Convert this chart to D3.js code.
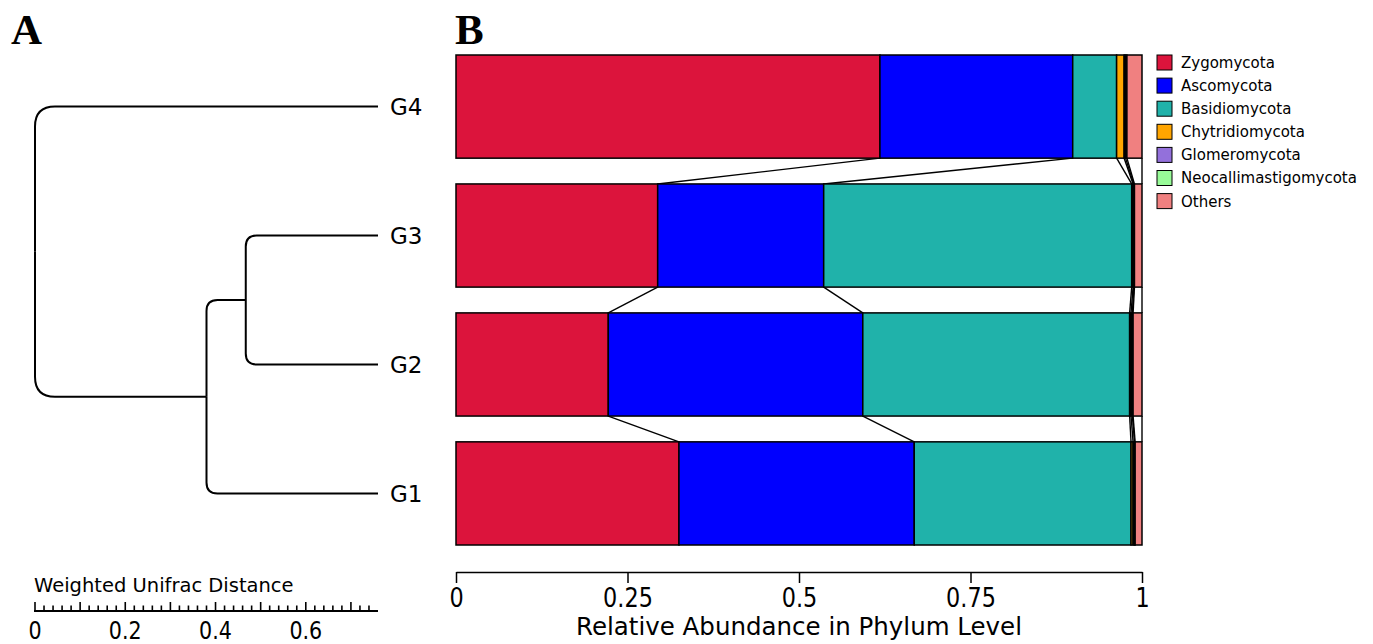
<!DOCTYPE html>
<html>
<head>
<meta charset="utf-8">
<script src="https://cdn.jsdelivr.net/npm/d3@7"></script>
<style>
  body { margin: 0; background: #fff; }
  svg { display: block; font-family: "DejaVu Sans", sans-serif; }
</style>
</head>
<body>
<div id="chart"></div>
<script>
// samples, top to bottom
var groups = ["G4", "G3", "G2", "G1"];
var phyla = ["Zygomycota", "Ascomycota", "Basidiomycota", "Chytridiomycota",
  "Glomeromycota", "Neocallimastigomycota", "Others"];
var colors = ["#DC143C", "#0000FF", "#20B2AA", "#FFA500", "#9370DB", "#98FB98", "#F08080"];

// relative abundance per phylum, in the order of groups
var zygomycota = [0.618, 0.294, 0.222, 0.325];
var ascomycota = [0.281, 0.242, 0.371, 0.343];
var basidiomycota = [0.064, 0.449, 0.389, 0.316];
var chytridiomycota = [0.011, 0.002, 0.002, 0.003];
var glomeromycota = [0.002, 0.001, 0.002, 0.002];
var neocallimastigomycota = [0.002, 0.001, 0.001, 0.001];
var others = [0.022, 0.011, 0.013, 0.010];

var abundanceTicks = [0, 0.25, 0.5, 0.75, 1];
var distanceTicks = [0, 0.2, 0.4, 0.6];

// UPGMA tree, branch lengths in weighted unifrac distance
var tree = {name: "root", length: 0, children: [
  {name: "G4", length: 0.76},
  {name: "n1", length: 0.38, children: [
    {name: "n2", length: 0.087, children: [
      {name: "G3", length: 0.293},
      {name: "G2", length: 0.293}
    ]},
    {name: "G1", length: 0.38}
  ]}
]};

var values = [zygomycota, ascomycota, basidiomycota, chytridiomycota,
  glomeromycota, neocallimastigomycota, others];
var rows = groups.map(function(g, i) {
  var r = {group: g};
  phyla.forEach(function(p, k) { r[p] = values[k][i]; });
  return r;
});
var series = d3.stack().keys(phyla)(rows);

var W = 1373, H = 644;
var svg = d3.select("#chart").append("svg").attr("width", W).attr("height", H);

var x = d3.scaleLinear().domain([0, 1]).range([456, 1142]);
var y = d3.scaleBand().domain(groups).range([55, 545]).paddingInner(0.2);
var bw = y.bandwidth();

// panel letters
svg.append("text").attr("x", 11).attr("y", 44).text("A")
  .style("font-family", "'Liberation Serif', serif").style("font-weight", "bold").style("font-size", "43px");
svg.append("text").attr("x", 455).attr("y", 44).text("B")
  .style("font-family", "'Liberation Serif', serif").style("font-weight", "bold").style("font-size", "43px");

// ---- panel B: stacked bars ----
// connectors between neighbouring bars at each cumulative boundary
var conn = svg.append("g").attr("stroke", "#000").attr("stroke-width", 1.4).attr("fill", "none");
series.forEach(function(s) {
  for (var i = 0; i < groups.length - 1; i++) {
    conn.append("line")
      .attr("x1", x(s[i][1])).attr("y1", y(groups[i]) + bw)
      .attr("x2", x(s[i + 1][1])).attr("y2", y(groups[i + 1]));
  }
});

svg.append("g").selectAll("g")
  .data(series)
  .join("g")
  .attr("fill", function(d, i) { return colors[i]; })
  .selectAll("rect")
  .data(function(d) { return d; })
  .join("rect")
  .attr("x", function(d) { return x(d[0]); })
  .attr("y", function(d) { return y(d.data.group); })
  .attr("width", function(d) { return x(d[1]) - x(d[0]); })
  .attr("height", bw)
  .attr("stroke", "#000")
  .attr("stroke-width", 1.5);

var xAxis = svg.append("g")
  .attr("transform", "translate(0,572)")
  .call(d3.axisBottom(x).tickValues(abundanceTicks).tickSize(11).tickSizeOuter(0).tickPadding(6)
    .tickFormat(function(d) { return String(d); }));
xAxis.select(".domain").attr("stroke-width", 1.5);
xAxis.selectAll(".tick line").attr("stroke-width", 1.5);
xAxis.selectAll(".tick text")
  .style("font-family", "'DejaVu Sans', sans-serif").style("font-size", "26px")
  .attr("fill", "#000")
  .attr("transform", "scale(0.86,1)");

svg.append("text")
  .attr("x", (x(0) + x(1)) / 2).attr("y", 635)
  .attr("text-anchor", "middle")
  .style("font-size", "24.5px")
  .text("Relative Abundance in Phylum Level");

// legend
var legend = svg.append("g").attr("transform", "translate(1157,55)");
var item = legend.selectAll("g").data(phyla).join("g")
  .attr("transform", function(d, i) { return "translate(0," + i * 23.1 + ")"; });
item.append("rect").attr("width", 15).attr("height", 15)
  .attr("fill", function(d, i) { return colors[i]; })
  .attr("stroke", "#000").attr("stroke-width", 1);
item.append("text").attr("x", 24).attr("y", 7.5).attr("dy", "0.36em")
  .style("font-size", "15px").text(function(d) { return d; });

// ---- panel A: dendrogram ----
var dx = d3.scaleLinear().domain([0, 0.76]).range([35, 378]);
var root = d3.hierarchy(tree);
root.eachBefore(function(n) { n.dist = (n.parent ? n.parent.dist : 0) + n.data.length; });
root.eachAfter(function(n) {
  if (n.children) {
    n.py = (n.children[0].py + n.children[n.children.length - 1].py) / 2;
  } else {
    n.py = y(n.data.name) + bw / 2;
  }
});

var treeG = svg.append("g").attr("fill", "none").attr("stroke", "#000").attr("stroke-width", 2);
root.descendants().forEach(function(n) {
  if (!n.parent) return;
  var p = n.parent;
  var px = dx(p.dist);
  var r = p.parent ? 11 : 20;
  var dir = n.py > p.py ? 1 : -1;
  var path = d3.path();
  path.moveTo(px, p.py);
  path.lineTo(px, n.py - dir * r);
  path.quadraticCurveTo(px, n.py, px + r, n.py);
  path.lineTo(dx(n.dist), n.py);
  treeG.append("path").attr("d", path.toString());
});

svg.append("g").selectAll("text")
  .data(root.leaves())
  .join("text")
  .attr("x", 390).attr("y", function(d) { return d.py; }).attr("dy", "0.36em")
  .style("font-size", "23px")
  .text(function(d) { return d.data.name; });

// scale bar
svg.append("text").attr("x", 34).attr("y", 592).style("font-size", "19.5px")
  .text("Weighted Unifrac Distance");
var bar = svg.append("g").attr("stroke", "#000").attr("stroke-width", 1.6);
bar.append("line").attr("x1", dx(0) - 1).attr("x2", dx(0.76)).attr("y1", 611).attr("y2", 611).attr("stroke-width", 2.2);
d3.range(0, 38).forEach(function(k) {
  var big = k % 5 === 0;
  bar.append("line")
    .attr("x1", dx(k * 0.02)).attr("x2", dx(k * 0.02))
    .attr("y1", 611).attr("y2", big ? 602 : 605.5);
});
svg.append("g").selectAll("text")
  .data(distanceTicks)
  .join("text")
  .attr("transform", function(d) { return "translate(" + dx(d) + ",639) scale(0.86,1)"; })
  .attr("text-anchor", "middle")
  .style("font-size", "24px")
  .text(function(d) { return String(d); });
</script>
</body>
</html>
